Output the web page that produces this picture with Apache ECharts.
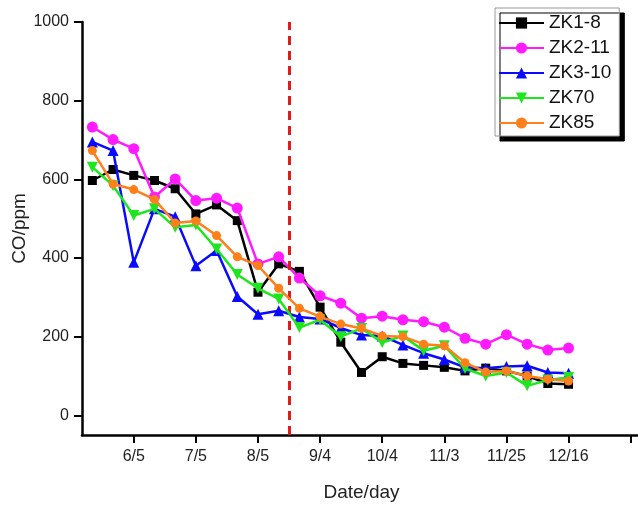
<!DOCTYPE html>
<html>
<head>
<meta charset="utf-8">
<script src="https://cdn.jsdelivr.net/npm/echarts@6/dist/echarts.min.js"></script>
<style>
html,body{margin:0;padding:0;background:#fff;}
#chart{width:638px;height:505px;}
</style>
</head>
<body>
<div id="chart"></div>
<script>
// Sampling points are evenly spaced; ticks every third sample
const tickPositions = [2, 5, 8, 11, 14, 17, 20, 23, 26];
const tickLabels = ['6/5', '7/5', '8/5', '9/4', '10/4', '11/3', '11/25', '12/16', ''];
const yTicks = [0, 200, 400, 600, 800, 1000];
const switchPoint = 9.5; // red dashed divider

const seriesNames = ['ZK1-8', 'ZK2-11', 'ZK3-10', 'ZK70', 'ZK85'];
const zk1_8  = [597, 625, 610, 597, 576, 512, 535, 495, 313, 385, 366, 275, 186, 109, 149, 132, 127, 122, 113, 120, 113, 100, 81, 79];
const zk2_11 = [733, 701, 678, 555, 601, 546, 552, 527, 385, 403, 349, 304, 285, 247, 252, 243, 238, 224, 196, 181, 205, 181, 166, 171];
const zk3_10 = [695, 673, 389, 525, 505, 380, 419, 302, 257, 266, 250, 245, 222, 204, 202, 179, 158, 142, 122, 120, 124, 126, 109, 107];
const zk70   = [631, 584, 508, 525, 478, 484, 423, 358, 323, 296, 223, 243, 200, 221, 185, 202, 164, 177, 119, 100, 109, 75, 90, 96];
const zk85   = [673, 588, 574, 549, 489, 494, 457, 403, 381, 323, 272, 251, 232, 221, 202, 200, 181, 177, 134, 110, 113, 100, 92, 87];

const colors = ['#000000', '#ff1aff', '#0a0aff', '#1ee61e', '#ff7f1a'];
const symbols = ['rect', 'circle', 'triangle', 'triangle', 'circle'];
const symbolRot = [0, 0, 0, 180, 0];
const symbolSizes = [9, 11, 11, 11, 9];
const allData = [zk1_8, zk2_11, zk3_10, zk70, zk85];

const font = '"Liberation Sans", Arial, sans-serif';
const chart = echarts.init(document.getElementById('chart'), null, {renderer: 'canvas'});

const series = allData.map((arr, k) => ({
  name: seriesNames[k],
  type: 'line',
  data: arr.map((v, i) => [i, v]),
  color: colors[k],
  symbol: symbols[k],
  symbolRotate: symbolRot[k],
  symbolSize: symbolSizes[k],
  lineStyle: {width: 2.5, color: colors[k]},
  itemStyle: {color: colors[k]},
  z: 3 + k,
  animation: false
}));

series[0].markLine = {
  silent: true,
  symbol: ['none', 'none'],
  animation: false,
  label: {show: false},
  lineStyle: {color: '#e31a1c', type: [9, 6], width: 3},
  data: [{xAxis: switchPoint}]
};

chart.setOption({
  animation: false,
  backgroundColor: '#ffffff',
  grid: {left: 82, top: 22, right: -3, bottom: 70, containLabel: false, outerBoundsMode: 'none'},
  legend: {
    orient: 'vertical',
    left: 495,
    top: 8,
    data: seriesNames,
    itemWidth: 45,
    itemHeight: 14,
    itemGap: 5,
    padding: [5, 8, 3, 3],
    backgroundColor: '#ffffff',
    borderColor: '#999999',
    borderWidth: 1,
    borderRadius: 0,
    shadowColor: '#000000',
    shadowBlur: 0,
    shadowOffsetX: 5,
    shadowOffsetY: 5,
    textStyle: {fontFamily: font, fontSize: 19, lineHeight: 20, color: '#111'}
  },
  xAxis: {
    type: 'value',
    min: -0.5,
    max: 26.5,
    name: 'Date/day',
    nameLocation: 'middle',
    nameGap: 48,
    nameMoveOverlap: false,
    nameTextStyle: {fontFamily: font, fontSize: 19, color: '#222'},
    axisLine: {show: true, onZero: false, lineStyle: {color: '#000', width: 2.5}},
    axisTick: {show: true, length: 8, lineStyle: {color: '#000', width: 2}, customValues: tickPositions},
    axisLabel: {
      fontFamily: font, fontSize: 16, color: '#222', margin: 14,
      customValues: tickPositions,
      formatter: v => { const j = tickPositions.indexOf(v); return j >= 0 ? tickLabels[j] : ''; }
    },
    splitLine: {show: false}
  },
  yAxis: {
    type: 'value',
    min: -50,
    max: 1000,
    name: 'CO/ppm',
    nameLocation: 'middle',
    nameGap: 53,
    nameMoveOverlap: false,
    nameTextStyle: {fontFamily: font, fontSize: 19, color: '#222'},
    axisLine: {show: true, onZero: false, lineStyle: {color: '#000', width: 2.5}},
    axisTick: {show: true, length: 8, lineStyle: {color: '#000', width: 2}, customValues: yTicks},
    axisLabel: {fontFamily: font, fontSize: 16, color: '#222', margin: 13, customValues: yTicks, formatter: v => String(v)},
    splitLine: {show: false}
  },
  series: series
});
</script>
</body>
</html>
